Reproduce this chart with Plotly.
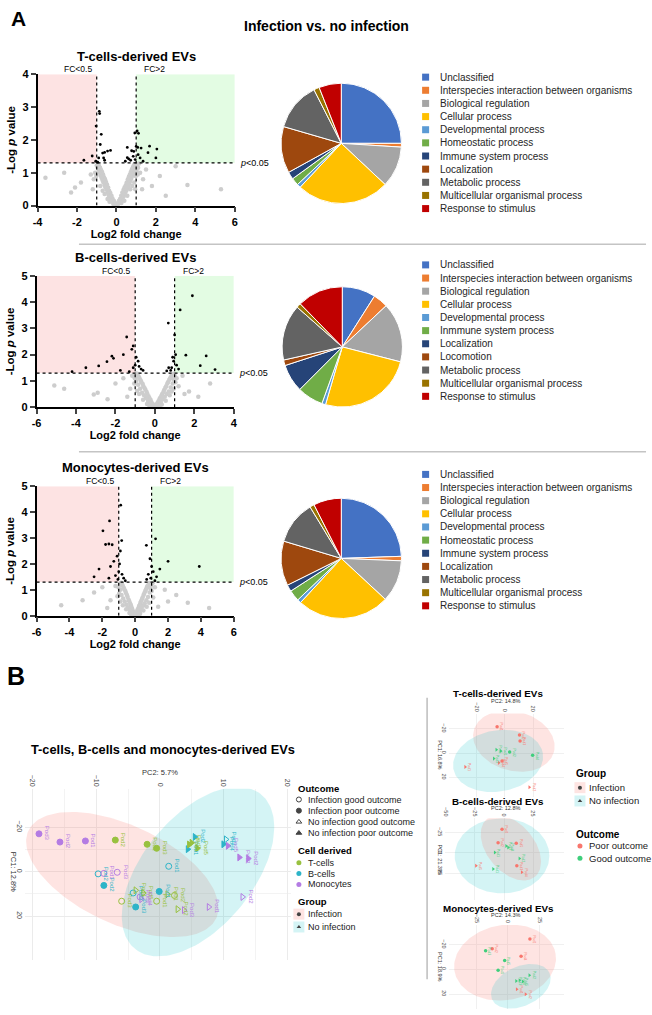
import numpy as np
import plotly.graph_objects as go

# ===================== DATA =====================
# Panel A volcano plots: (log2 fold change, -log10 p value)
tcell_sig = [(-0.87,2.87),(-0.85,2.8),(-1.03,2.42),(-0.77,2.17),(-0.82,1.86),(-0.7,1.6),(-0.6,1.62),
             (-0.45,1.66),(-0.3,1.68),(-0.65,1.45),(-0.6,1.38),(-1.23,1.51),(-1.65,1.38),(-1.05,1.35),
             (-0.9,1.45),(0.55,1.46),(0.62,1.42),(0.72,1.38),(0.55,1.77),(0.77,1.67),(0.93,2.21),
             (1.05,2.27),(1.12,2.2),(1.08,1.77),(1.1,1.55),(1.2,1.45),(1.35,1.35),(1.6,1.61),(1.68,1.81),
             (2.0,1.45),(2.05,1.72),(0.85,1.5),(0.95,1.4),(1.0,1.8),(0.45,1.35),(0.88,1.65),(1.25,1.75),
             (-0.95,1.32)]
tcell_ns = [(0,0.01),(0.03,0.03),(-0.03,0.04),(0.06,0.05),(-0.06,0.07),(0.1,0.06),(-0.1,0.1),(0.12,0.14),
            (-0.13,0.15),(0.15,0.08),(-0.16,0.05),(0.18,0.2),(-0.2,0.22),(0.2,0.12),(-0.22,0.12),(0.24,0.3),
            (-0.25,0.3),(0.27,0.18),(-0.28,0.2),(0.3,0.4),(-0.31,0.38),(0.33,0.25),(-0.34,0.27),(0.36,0.48),
            (-0.37,0.45),(0.38,0.3),(-0.4,0.32),(0.41,0.55),(-0.42,0.55),(0.44,0.38),(-0.45,0.4),(0.47,0.62),
            (-0.48,0.64),(0.5,0.45),(-0.5,0.48),(0.52,0.7),(-0.53,0.72),(0.55,0.52),(-0.56,0.55),(0.58,0.8),
            (-0.58,0.8),(0.6,0.6),(-0.6,0.62),(0.63,0.88),(-0.63,0.86),(0.65,0.68),(-0.66,0.7),(0.68,0.95),
            (-0.68,0.95),(0.7,0.75),(-0.71,0.78),(0.73,1.02),(-0.73,1.02),(0.75,0.82),(-0.76,0.85),(0.78,1.1),
            (-0.78,1.08),(0.8,0.9),(-0.8,0.92),(0.83,1.16),(-0.83,1.15),(0.85,0.98),(-0.85,1.0),(0.88,1.22),
            (-0.88,1.2),(0.9,1.05),(-0.9,1.08),(0.93,1.27),(-0.92,1.26),(0.95,1.12),(-0.95,1.15),(0.98,0.9),
            (1.0,1.2),(1.02,1.05),(1.05,1.25),(1.08,0.95),(1.1,1.15),(1.15,1.28),(1.2,1.0),(-1.0,1.22),
            (-1.02,0.9),(-1.08,1.0),(-1.15,0.8),(-1.3,0.95),(0.4,0.15),(-0.35,0.12),(0.25,0.08),(-0.45,0.2),
            (0.55,0.3),(-0.6,0.35),(0.7,0.5),(-0.7,0.45),(0.8,0.6),(-0.82,0.6),(0.9,0.7),(0.95,0.5),
            (-1.2,0.5),(-1.8,0.7),(-2.1,0.55),(-2.65,1.0),(-3.6,0.85),(-2.3,0.4),(1.35,0.8),(1.5,1.1),
            (1.8,0.6),(2.2,0.9),(3.0,1.2),(3.6,0.63),(5.3,0.5),(2.5,0.3),(1.3,0.5)]

bcell_sig = [(1.9,4.24),(1.28,3.7),(0.68,3.2),(-1.43,2.67),(1.0,2.75),(-1.1,2.33),(-1.17,2.2),(-1.6,2.0),
             (-2.18,1.94),(-2.1,1.86),(-2.43,1.73),(-2.85,1.57),(1.57,1.98),(2.6,1.95),(2.3,1.58),(3.05,1.43),
             (0.9,1.9),(1.05,2.0),(0.95,1.75),(1.1,1.6),(0.85,1.5),(1.2,1.45),(0.8,1.4),(-0.95,1.9),
             (-0.85,1.75),(-1.0,1.6),(-0.8,1.55),(-0.7,1.45),(-1.1,1.5),(-0.6,1.4),(-1.75,1.4),(-1.3,1.35),
             (0.6,1.38),(0.7,1.5),(-3.5,1.5),(-4.2,1.35)]
bcell_ns = [(0,0.02),(0.04,0.05),(-0.04,0.04),(0.07,0.1),(-0.08,0.08),(0.1,0.04),(-0.12,0.13),(0.13,0.16),
            (-0.15,0.06),(0.17,0.22),(-0.18,0.2),(0.2,0.1),(-0.22,0.28),(0.23,0.3),(-0.25,0.15),(0.27,0.36),
            (-0.28,0.35),(0.3,0.2),(-0.32,0.42),(0.33,0.44),(-0.35,0.25),(0.37,0.5),(-0.38,0.5),(0.4,0.3),
            (-0.42,0.58),(0.43,0.58),(-0.45,0.35),(0.47,0.65),(-0.48,0.66),(0.5,0.4),(-0.52,0.72),(0.53,0.74),
            (-0.55,0.45),(0.57,0.8),(-0.58,0.8),(0.6,0.5),(-0.62,0.88),(0.63,0.9),(-0.65,0.55),(0.67,0.96),
            (-0.68,0.95),(0.7,0.6),(-0.72,1.02),(0.73,1.04),(-0.75,0.7),(0.77,1.1),(-0.78,1.1),(0.8,0.75),
            (-0.82,1.16),(0.83,1.18),(-0.85,0.85),(0.87,1.22),(-0.88,1.24),(0.9,0.9),(-0.92,1.28),(0.93,1.27),
            (-0.95,1.0),(0.96,1.05),(-0.98,1.18),(1.0,1.2),(-1.02,1.1),(1.04,0.95),(-1.05,0.9),(1.1,1.1),
            (-1.15,1.2),(1.2,0.8),(-1.25,0.7),(0.35,0.1),(-0.4,0.12),(0.55,0.25),(-0.6,0.28),(0.75,0.45),
            (-0.8,0.5),(0.85,0.6),(-0.9,0.62),(0.25,0.06),(-0.3,0.08),(0.95,0.7),(-5.1,0.83),(-4.6,0.7),
            (-3.1,0.48),(-2.9,0.55),(-2.0,0.9),(-1.6,1.1),(-2.4,0.3),(1.73,0.6),(2.8,0.9),(1.4,1.2),
            (2.2,0.4),(1.5,0.5),(-1.4,0.4)]

mono_sig = [(-0.88,4.27),(-1.56,3.66),(-1.96,3.28),(-1.8,2.75),(-1.6,2.77),(-1.4,2.74),(-0.82,2.9),
            (1.24,2.97),(0.68,2.72),(-0.9,2.5),(-1.1,2.3),(-1.3,2.1),(-0.95,2.0),(-1.5,1.9),(-2.2,1.8),
            (-1.0,1.7),(-0.8,1.6),(-1.2,1.55),(-0.7,1.45),(-1.05,1.4),(-1.6,1.45),(-2.5,1.5),(0.9,2.2),
            (1.0,1.9),(1.1,1.7),(0.8,1.6),(1.3,1.5),(0.95,1.45),(0.7,1.4),(1.5,1.8),(2.0,2.1),(3.9,1.9),
            (1.2,1.35),(-0.6,1.35)]
mono_ns = [(0,0.02),(0.03,0.06),(-0.03,0.05),(0.06,0.09),(-0.07,0.1),(0.09,0.03),(-0.1,0.14),(0.12,0.17),
           (-0.13,0.05),(0.15,0.24),(-0.16,0.22),(0.18,0.1),(-0.2,0.3),(0.21,0.32),(-0.23,0.14),(0.24,0.38),
           (-0.26,0.4),(0.28,0.18),(-0.3,0.46),(0.31,0.48),(-0.33,0.22),(0.35,0.55),(-0.36,0.56),(0.38,0.28),
           (-0.4,0.62),(0.41,0.64),(-0.43,0.32),(0.45,0.7),(-0.46,0.72),(0.48,0.38),(-0.5,0.8),(0.51,0.8),
           (-0.53,0.42),(0.55,0.86),(-0.56,0.88),(0.58,0.48),(-0.6,0.95),(0.61,0.94),(-0.63,0.55),(0.65,1.0),
           (-0.66,1.02),(0.68,0.6),(-0.7,1.08),(0.71,1.1),(-0.73,0.66),(0.75,1.15),(-0.76,1.16),(0.78,0.72),
           (-0.8,1.22),(0.81,1.2),(-0.83,0.8),(0.85,1.26),(-0.86,1.27),(0.88,0.9),(-0.9,1.0),(0.92,1.05),
           (-0.94,1.2),(0.96,1.15),(-0.98,0.85),(1.0,0.95),(-1.02,1.1),(1.05,1.25),(-1.08,0.75),(1.1,0.7),
           (-1.2,1.15),(1.2,1.1),(0.3,0.08),(-0.35,0.1),(0.5,0.2),(-0.55,0.25),(0.7,0.35),(-0.75,0.4),
           (0.85,0.5),(-0.9,0.55),(0.2,0.05),(-0.25,0.06),(-4.5,0.4),(-3.2,0.6),(-2.5,0.9),(2.5,0.8),
           (3.2,0.5),(4.5,0.3),(-2.0,1.1),(1.8,1.0),(-1.5,0.6),(1.4,0.35),(-1.7,0.3),(2.0,0.55)]

# Panel A pie charts (GO biological process, % of proteins)
go_labels_t = ["Unclassified", "Interspecies interaction between organisms", "Biological regulation",
               "Cellular process", "Developmental process", "Homeostatic process", "Immune system process",
               "Localization", "Metabolic process", "Multicellular organismal process", "Response to stimulus"]
go_values_t = [25, 1, 11, 25, 1, 2, 2, 12.5, 13, 1.5, 6]
go_labels_b = ["Unclassified", "Interspecies interaction between organisms", "Biological regulation",
               "Cellular process", "Developmental process", "Inmmune system process", "Localization",
               "Locomotion", "Metabolic process", "Multicellular organismal process", "Response to stimulus"]
go_values_b = [9, 4, 16, 25.5, 1, 7, 7.5, 1.5, 15, 1.2, 12.3]
go_labels_m = ["Unclassified", "Interspecies interaction between organisms", "Biological regulation",
               "Cellular process", "Developmental process", "Homeostatic process", "Immune system process",
               "Localization", "Metabolic process", "Multicellular organismal process", "Response to stimulus"]
go_values_m = [24.5, 1.2, 11.3, 25, 1, 3, 1.8, 12, 11.7, 1.2, 7.5]
go_colors = ['#4472C4', '#ED7D31', '#A5A5A5', '#FFC000', '#5B9BD5', '#70AD47', '#264478',
             '#9E480E', '#636363', '#997300', '#C00000']

# Panel B: combined PCA (PC2, PC1, cell, group, outcome, label)
pca_samples = [
    (-19.0,-17.0,'Monocytes','Infection','Poor','Pod3'), (-15.7,-13.3,'Monocytes','Infection','Poor','Pod2'),
    (-11.7,-13.8,'Monocytes','Infection','Poor','Pod1'), (-7.0,-14.2,'T-cells','Infection','Poor','Pod2'),
    (-2.0,-12.3,'T-cells','Infection','Poor','Pod1'), (-0.5,-10.5,'T-cells','Infection','Poor','Pod3'),
    (-8.8,6.2,'B-cells','Infection','Poor','Pod2'), (-3.8,15.9,'B-cells','Infection','Poor','Pod3'),
    (-0.1,8.9,'B-cells','Infection','Poor','Pod1'),
    (-9.7,1.0,'B-cells','Infection','Good','Pod2'), (-8.8,0.8,'Monocytes','Infection','Good','Pod1'),
    (-6.7,0.3,'Monocytes','Infection','Good','Pod3'), (1.4,-2.4,'B-cells','Infection','Good','Pod1'),
    (-6.0,13.3,'T-cells','Infection','Good','Pod3'), (-0.5,13.3,'T-cells','Infection','Good','Pod1'),
    (2.3,10.7,'T-cells','Infection','Good','Pod2'), (-3.1,11.4,'Monocytes','Infection','Good','Pod2'),
    (-4.2,9.6,'B-cells','Infection','Good','Pod3'),
    (-3.8,8.4,'T-cells','No infection','Good','Pod4'), (-2.6,9.6,'T-cells','No infection','Good','Pod5'),
    (-2.9,12.4,'Monocytes','No infection','Good','Pod4'), (3.8,17.3,'Monocytes','No infection','Good','Pod3'),
    (7.7,15.9,'Monocytes','No infection','Good','Pod1'), (13.0,11.4,'Monocytes','No infection','Good','Pod2'),
    (2.8,16.9,'T-cells','No infection','Good','Pod2'), (10.4,-14.5,'B-cells','No infection','Good','Pod3'),
    (1.2,10.2,'T-cells','No infection','Good','Pod1'),
    (5.5,-15.6,'B-cells','No infection','Poor','Pod2'), (5.0,-13.0,'T-cells','No infection','Poor','Pod1'),
    (5.9,-10.5,'T-cells','No infection','Poor','Pod5'), (4.4,-10.1,'B-cells','No infection','Poor','Pod1'),
    (10.0,-12.3,'B-cells','No infection','Poor','Pod4'), (10.7,-11.6,'Monocytes','No infection','Poor','Pod5'),
    (12.5,-6.4,'Monocytes','No infection','Poor','Pod1'), (13.9,-5.9,'Monocytes','No infection','Poor','Pod2'),
    (4.6,-12.2,'T-cells','No infection','Poor','Pod3'),
]
# confidence ellipses: centre (PC2, PC1) and two conjugate semi-axis vectors
pca_ellipses = {'Infection': (-5.9, 1.3, 14.76, 19.7, -3.27, 20.1),
                'No infection': (6.0, 0.0, 9.8, -35.0, 6.9, 15.1)}

# Panel B: per cell type PCA (PC2, PC1, group, outcome)
small_t = [(-5.6,-21.7,'Infection','Poor'), (10.3,-14.9,'Infection','Poor'), (10.7,-9.8,'Infection','Poor'),
           (19.6,1.9,'Infection','Good'), (-6.1,-2.7,'No infection','Good'), (-3.0,-1.6,'No infection','Good'),
           (3.3,-0.8,'Infection','Good'), (-7.9,4.6,'No infection','Good'), (-4.4,8.1,'No infection','Poor'),
           (-2.1,6.5,'Infection','Poor'), (-28.2,11.4,'No infection','Poor'), (17.3,28.2,'No infection','Poor')]
small_t_ell = {'Infection': (6.3, -9.8, 28.4, 8.9, -5.4, 23.6),
               'No infection': (-4.9, 6.5, 31.7, -6.5, 3.8, 24.8)}
small_b = [(-1.7,-29.0,'Infection','Poor'), (-5.1,-12.6,'Infection','Poor'), (1.9,-8.5,'No infection','Good'),
           (3.6,-6.5,'No infection','Good'), (10.5,-11.8,'Infection','Poor'), (-7.9,-0.4,'No infection','Good'),
           (13.3,7.0,'No infection','Good'), (11.0,15.9,'Infection','Poor'), (15.3,24.0,'No infection','Poor'),
           (-24.0,15.9,'No infection','Poor'), (-9.3,19.9,'No infection','Good')]
small_b_ell = {'No infection': (-1.7, 3.7, 40.7, 0.0, 0.0, 46.3),
               'Infection': (5.9, -6.1, 20.7, 35.5, -15.6, 18.8)}
small_m = [(17.4,-24.6,'Infection','Poor'), (-12.5,-16.8,'Infection','Poor'), (-17.7,-15.2,'Infection','Good'),
           (10.4,-10.6,'Infection','Poor'), (-2.6,-7.2,'Infection','Good'), (-7.8,0.6,'Infection','Good'),
           (17.0,4.6,'No infection','Good'), (6.5,9.4,'No infection','Good'), (9.2,8.8,'No infection','Good'),
           (11.7,9.8,'No infection','Good'), (7.0,16.0,'No infection','Poor'), (14.0,20.0,'No infection','Poor')]
small_m_ell = {'Infection': (-2.3, -5.6, 40.0, -7.2, 5.2, 29.9),
               'No infection': (10.2, 13.6, 22.7, -10.8, 6.6, 14.5)}

# ===================== STYLE / LAYOUT =====================
FONT = 'Liberation Sans, Arial, sans-serif'
W, H = 652, 1015
CELL_COL = {'T-cells': '#98C13F', 'B-cells': '#2DB4C8', 'Monocytes': '#B47CE3'}
SYM = {('Infection', 'Good'): 'circle-open', ('Infection', 'Poor'): 'circle',
       ('No infection', 'Good'): 'triangle-right-open', ('No infection', 'Poor'): 'triangle-right'}
ELL_COL = {'Infection': 'rgba(248,118,109,0.2)', 'No infection': 'rgba(0,191,196,0.17)'}
OUT_COL = {'Poor': '#F8766D', 'Good': '#3FCF7C'}


def fx(x): return x / W
def fy(y): return 1 - y / H
def dom_x(a, b): return [a / W, b / W]
def dom_y(a, b): return [1 - b / H, 1 - a / H]
def axn(n): return ('x', 'y') if n == 1 else (f'x{n}', f'y{n}')
def axkey(n): return ('xaxis', 'yaxis') if n == 1 else (f'xaxis{n}', f'yaxis{n}')


fig = go.Figure()
shapes, anns, layout = [], [], {}


def text(x, y, s, size=10, color='black', xanchor='center', yanchor='middle', angle=0):
    anns.append(dict(x=fx(x), y=fy(y), xref='paper', yref='paper', text=s, showarrow=False,
                     font=dict(size=size, color=color, family=FONT), xanchor=xanchor,
                     yanchor=yanchor, textangle=angle))


# ---------- Panel A titles ----------
text(14, 13, '<b>A</b>', 21)
text(326, 20, '<b>Infection vs. no infection</b>', 14)

# ---------- Volcano plots ----------
volcanoes = [
    (1, tcell_sig, tcell_ns, [-4, 6], [0, 4], [-4, -2, 0, 2, 4, 6], [0, 1, 2, 3, 4], (33, 69, 233, 202), 'T-cells-derived EVs', 51),
    (2, bcell_sig, bcell_ns, [-6, 4], [0, 5], [-6, -4, -2, 0, 2, 4], [0, 1, 2, 3, 4, 5], (32, 273, 232, 406), 'B-cells-derived EVs', 255),
    (3, mono_sig, mono_ns, [-6, 6], [0, 5], [-6, -4, -2, 0, 2, 4, 6], [0, 1, 2, 3, 4, 5], (32, 486, 232, 617), 'Monocytes-derived EVs', 467),
]
for n, sig, ns, xr, yr, xt, yt, box, title, ty in volcanoes:
    xa, ya = axn(n)
    kx, ky = axkey(n)
    x0, y0, x1, y1 = box
    shapes.append(dict(type='rect', xref=xa, yref=ya, x0=xr[0], x1=-1, y0=1.3, y1=yr[1],
                       fillcolor='#FDE3E3', line=dict(width=0), layer='below'))
    shapes.append(dict(type='rect', xref=xa, yref=ya, x0=1, x1=xr[1], y0=1.3, y1=yr[1],
                       fillcolor='#E3FCE3', line=dict(width=0), layer='below'))
    nsx, nsy = zip(*ns)
    fig.add_trace(go.Scatter(x=nsx, y=nsy, mode='markers', xaxis=xa, yaxis=ya, cliponaxis=False,
                             marker=dict(size=4.5, color='#CDCDCD'), hoverinfo='skip'))
    sx, sy = zip(*sig)
    fig.add_trace(go.Scatter(x=sx, y=sy, mode='markers', xaxis=xa, yaxis=ya, cliponaxis=False,
                             marker=dict(size=2.8, color='black'), hoverinfo='x+y'))
    for xv in (-1, 1):
        shapes.append(dict(type='line', xref=xa, yref=ya, x0=xv, x1=xv, y0=0, y1=yr[1],
                           line=dict(color='black', width=1.2, dash='dot')))
    shapes.append(dict(type='line', xref=xa, yref=ya, x0=xr[0], x1=xr[1], y0=1.3, y1=1.3,
                       line=dict(color='black', width=1.2, dash='dot')))
    tf = dict(size=11, family=FONT, color='black')
    layout[kx] = dict(domain=dom_x(x0, x1), range=xr, anchor=ya, tickvals=xt, ticks='outside', ticklen=5,
                      tickwidth=1.5, showline=True, linecolor='black', linewidth=1.5, showgrid=False,
                      zeroline=False, tickfont=tf, ticktext=[f'<b>{v}</b>' for v in xt],
                      title=dict(text='<b>Log2 fold change</b>', font=tf, standoff=3))
    layout[ky] = dict(domain=dom_y(y0, y1), range=yr, anchor=xa, tickvals=yt, ticks='outside', ticklen=5,
                      tickwidth=1.5, showline=True, linecolor='black', linewidth=1.5, showgrid=False,
                      zeroline=False, tickfont=tf, ticktext=[f'<b>{v}</b>' for v in yt],
                      title=dict(text='<b>-Log <i>p</i> value</b>', font=dict(size=11.5, family=FONT, color='black'),
                                 standoff=4))
    text((x0 + x1) / 2, ty, f'<b>{title}</b>', 13)
    anns.append(dict(x=-1, y=yr[1], xref=xa, yref=ya, text='FC&lt;0.5', showarrow=False, xanchor='right',
                     yanchor='middle', xshift=-3, yshift=5, font=dict(size=8.5, family=FONT, color='black')))
    anns.append(dict(x=1, y=yr[1], xref=xa, yref=ya, text='FC&gt;2', showarrow=False, xanchor='left',
                     yanchor='middle', xshift=6, yshift=5, font=dict(size=8.5, family=FONT, color='black')))
    anns.append(dict(x=xr[1], y=1.3, xref=xa, yref=ya, text='<i>p</i>&lt;0.05', showarrow=False,
                     xanchor='left', yanchor='middle', xshift=3, font=dict(size=9, family=FONT, color='black')))

# separators
shapes.append(dict(type='line', xref='paper', yref='paper', x0=fx(75), x1=fx(650), y0=fy(241), y1=fy(241),
                   line=dict(color='#C4C4C4', width=1.5)))
shapes.append(dict(type='line', xref='paper', yref='paper', x0=fx(75), x1=fx(650), y0=fy(451), y1=fy(451),
                   line=dict(color='#C4C4C4', width=1.5)))

# ---------- Pie charts ----------
pies = [(go_labels_t, go_values_t, (280, 78, 402, 200), 72),
        (go_labels_b, go_values_b, (281, 284, 403, 406), 262),
        (go_labels_m, go_values_m, (280, 498, 402, 620), 474)]
leg_x, leg_y, leg_c = [], [], []
for labels, values, (x0, y0, x1, y1), ly in pies:
    fig.add_trace(go.Pie(labels=labels, values=values, sort=False, direction='clockwise', rotation=0,
                         domain=dict(x=dom_x(x0, x1), y=dom_y(y0, y1)), textinfo='none', showlegend=False,
                         marker=dict(colors=go_colors, line=dict(color='white', width=1)),
                         hoverinfo='label+percent'))
    for i, lab in enumerate(labels):
        yy = ly + 13.3 * i
        leg_x.append(426.5); leg_y.append(yy); leg_c.append(go_colors[i])
        text(439, yy, lab, 10, '#262626', xanchor='left')

# overlay axis (pixel coordinates) for legend glyphs
layout['xaxis8'] = dict(domain=[0, 1], range=[0, W], visible=False, fixedrange=True, anchor='y8')
layout['yaxis8'] = dict(domain=[0, 1], range=[H, 0], visible=False, fixedrange=True, anchor='x8')
fig.add_trace(go.Scatter(x=leg_x, y=leg_y, mode='markers', xaxis='x8', yaxis='y8', hoverinfo='skip',
                         marker=dict(symbol='square', size=7, color=leg_c)))

# ---------- Panel B ----------
text(11, 678, '<b>B</b>', 25)
text(160, 752, '<b>T-cells, B-cells and monocytes-derived EVs</b>', 12.8)
text(157, 776, 'PC2: 5.7%', 7.5, '#333333')
text(8, 876, 'PC1: 12.8%', 7.5, '#333333', angle=90)

t_par = np.linspace(0, 2 * np.pi, 160)


def add_ellipses(ells, xa, ya):
    for grp, (cx, cy, ux, uy, vx, vy) in ells.items():
        fig.add_trace(go.Scatter(x=cx + ux * np.cos(t_par) + vx * np.sin(t_par),
                                 y=cy + uy * np.cos(t_par) + vy * np.sin(t_par),
                                 mode='lines', fill='toself', fillcolor=ELL_COL[grp], line=dict(width=0),
                                 xaxis=xa, yaxis=ya, hoverinfo='skip'))


grid_ax = dict(showline=False, zeroline=False, ticks='', showgrid=True, gridcolor='#EBEBEB', gridwidth=0.8)
layout['xaxis4'] = dict(domain=dom_x(20, 290), range=[-21.24, 20.62], anchor='y4', side='top',
                        tickvals=[-20, -10, 0, 10, 20], tickangle=90,
                        tickfont=dict(size=7, color='#4D4D4D', family=FONT),
                        minor=dict(tickvals=[-15, -5, 5, 15], showgrid=True, gridcolor='#F3F3F3', gridwidth=0.5),
                        **grid_ax)
layout['yaxis4'] = dict(domain=dom_y(792, 965), range=[39.56, -37.33], anchor='x4',
                        tickvals=[-20, 0, 20], tickangle=90,
                        tickfont=dict(size=7, color='#4D4D4D', family=FONT),
                        minor=dict(tickvals=[-10, 10], showgrid=True, gridcolor='#F3F3F3', gridwidth=0.5),
                        **grid_ax)
add_ellipses(pca_ellipses, 'x4', 'y4')
px_ = [s[0] for s in pca_samples]
py_ = [s[1] for s in pca_samples]
pc_ = [CELL_COL[s[2]] for s in pca_samples]
ps_ = [SYM[(s[3], s[4])] for s in pca_samples]
fig.add_trace(go.Scatter(x=px_, y=py_, mode='markers', xaxis='x4', yaxis='y4', hoverinfo='x+y',
                         marker=dict(size=6, color=pc_, symbol=ps_, line=dict(width=1, color=pc_))))
for s in pca_samples:
    anns.append(dict(x=s[0], y=s[1], xref='x4', yref='y4', text=s[5], showarrow=False, textangle=90,
                     xshift=8, font=dict(size=6, color=CELL_COL[s[2]], family=FONT)))

# big legend
text(295, 792, '<b>Outcome</b>', 9.5, xanchor='left')
out_items = ['Infection good outcome', 'Infection poor outcome', 'No infection good outcome', 'No infection poor outcome']
out_syms = ['circle-open', 'circle', 'triangle-up-open', 'triangle-up']
for i, (lab, sy) in enumerate(zip(out_items, out_syms)):
    yy = 803 + 11.3 * i
    fig.add_trace(go.Scatter(x=[298], y=[yy], mode='markers', xaxis='x8', yaxis='y8', hoverinfo='skip',
                             marker=dict(symbol=sy, size=5, color='#444444', line=dict(width=1, color='#444444'))))
    text(305, yy, lab, 9, '#1A1A1A', xanchor='left')
text(295, 855, '<b>Cell derived</b>', 9.5, xanchor='left')
for i, lab in enumerate(['T-cells', 'B-cells', 'Monocytes']):
    yy = 867 + 11 * i
    fig.add_trace(go.Scatter(x=[298], y=[yy], mode='markers', xaxis='x8', yaxis='y8', hoverinfo='skip',
                             marker=dict(symbol='circle', size=5, color=CELL_COL[lab])))
    text(305, yy, lab, 9, '#1A1A1A', xanchor='left')
text(295, 906, '<b>Group</b>', 9.5, xanchor='left')
for i, (lab, sy) in enumerate([('Infection', 'circle'), ('No infection', 'triangle-up')]):
    yy = 919 + 13 * i
    fig.add_trace(go.Scatter(x=[298], y=[yy], mode='markers', xaxis='x8', yaxis='y8', hoverinfo='skip',
                             marker=dict(symbol='square', size=11, color=ELL_COL[lab])))
    fig.add_trace(go.Scatter(x=[298], y=[yy], mode='markers', xaxis='x8', yaxis='y8', hoverinfo='skip',
                             marker=dict(symbol=sy, size=4, color='#444444')))
    text(305, yy, lab, 9, '#1A1A1A', xanchor='left')

# vertical separator
shapes.append(dict(type='line', xref='paper', yref='paper', x0=fx(428), x1=fx(428), y0=fy(700), y1=fy(985),
                   line=dict(color='#BDBDBD', width=1.5)))

# small PCA plots
smalls = [
    (5, small_t, small_t_ell, (450, 716, 567, 800), [-39.86, 41.96], [35.8, -32.5], [-20, 0, 20], [-20, 0, 20],
     'T-cells-derived EVs', 'PC2: 14.8%', 'PC1: 16.8%', 696),
    (6, small_b, small_b_ell, (446, 822, 567, 905), [-50.85, 51.69], [58.54, -42.68], [-50, -25, 0, 25], [-25, 0, 25],
     'B-cells-derived EVs', 'PC2: 12.8%', 'PC1: 21.3%', 805),
    (7, small_m, small_m_ell, (450, 930, 567, 1015), [-46.88, 44.53], [32, -36], [-25, 0, 25], [-20, 0, 20],
     'Monocytes-derived EVs', 'PC2: 14.3%', 'PC1: 18.9%', 913),
]
for n, pts, ells, (x0, y0, x1, y1), xr, yr, xt, yt, title, l2, l1, ty in smalls:
    xa, ya = axn(n)
    kx, ky = axkey(n)
    sg = dict(showline=False, zeroline=False, ticks='', showgrid=True, gridcolor='#F0F0F0', gridwidth=0.6)
    layout[kx] = dict(domain=dom_x(x0, x1), range=xr, anchor=ya, side='top', tickvals=xt, tickangle=90,
                      tickfont=dict(size=5.5, color='#4D4D4D', family=FONT), **sg)
    layout[ky] = dict(domain=dom_y(y0, y1), range=yr, anchor=xa, tickvals=yt, tickangle=90,
                      tickfont=dict(size=5.5, color='#4D4D4D', family=FONT), **sg)
    add_ellipses(ells, xa, ya)
    fig.add_trace(go.Scatter(x=[p[0] for p in pts], y=[p[1] for p in pts], mode='markers', xaxis=xa, yaxis=ya,
                             hoverinfo='x+y',
                             marker=dict(size=3.5, color=[OUT_COL[p[3]] for p in pts],
                                         symbol=['circle' if p[2] == 'Infection' else 'triangle-right' for p in pts])))
    for k, p in enumerate(pts):
        anns.append(dict(x=p[0], y=p[1], xref=xa, yref=ya, text=f'Pod{k % 5 + 1}', showarrow=False,
                         textangle=90, xshift=4, font=dict(size=3.5, color=OUT_COL[p[3]], family=FONT)))
    text(500, ty, f'<b>{title}</b>', 9.8)
    text(507, ty + 7, l2, 5.5, '#333333')
    text(441, (y0 + y1) / 2, l1, 5.5, '#333333', angle=90)

# small legend
text(577, 777, '<b>Group</b>', 10, xanchor='left')
for i, (lab, sy) in enumerate([('Infection', 'circle'), ('No infection', 'triangle-up')]):
    yy = 791 + 13.5 * i
    fig.add_trace(go.Scatter(x=[583], y=[yy], mode='markers', xaxis='x8', yaxis='y8', hoverinfo='skip',
                             marker=dict(symbol='square', size=11, color=ELL_COL[lab])))
    fig.add_trace(go.Scatter(x=[583], y=[yy], mode='markers', xaxis='x8', yaxis='y8', hoverinfo='skip',
                             marker=dict(symbol=sy, size=4, color='#444444')))
    text(590, yy, lab, 9.5, '#1A1A1A', xanchor='left')
text(577, 838, '<b>Outcome</b>', 10, xanchor='left')
for i, lab in enumerate(['Poor', 'Good']):
    yy = 850 + 12.5 * i
    fig.add_trace(go.Scatter(x=[583], y=[yy], mode='markers', xaxis='x8', yaxis='y8', hoverinfo='skip',
                             marker=dict(symbol='circle', size=5, color=OUT_COL[lab])))
    text(590, yy, f'{lab} outcome', 9.5, '#1A1A1A', xanchor='left')

fig.update_layout(width=W, height=H, margin=dict(l=0, r=0, t=0, b=0), paper_bgcolor='white',
                  plot_bgcolor='rgba(0,0,0,0)', showlegend=False, font=dict(family=FONT),
                  shapes=shapes, annotations=anns, **layout)
fig.write_html('out.html')
